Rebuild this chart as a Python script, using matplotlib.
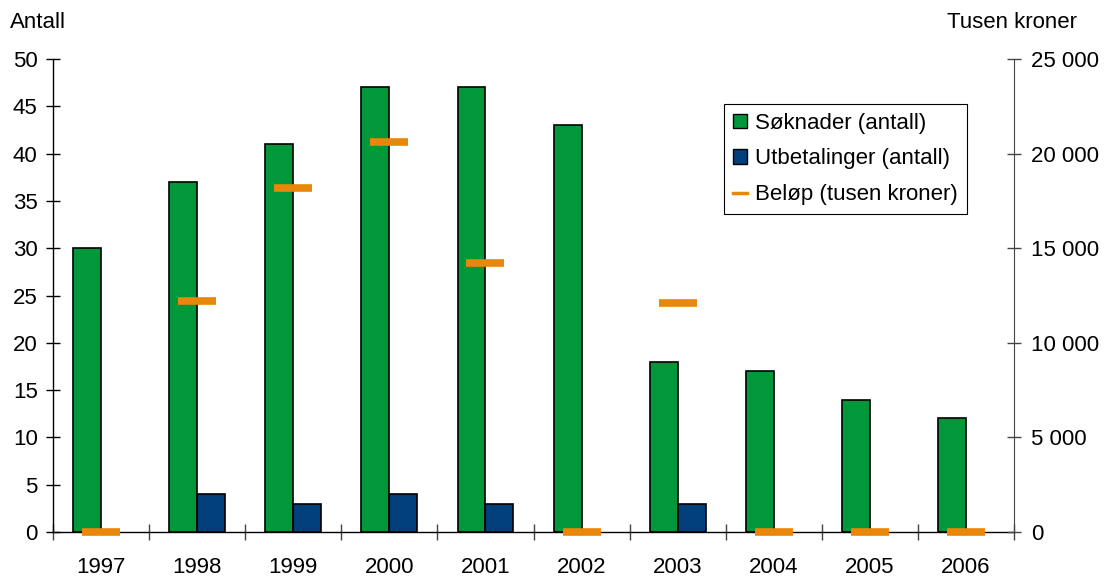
import numpy as np
import matplotlib
matplotlib.use("Agg")
from matplotlib import pyplot as plt
from matplotlib.ticker import FixedLocator, FuncFormatter
from matplotlib.lines import Line2D
from matplotlib.patches import Patch

plt.rcParams["font.family"] = ["Liberation Sans", "DejaVu Sans"]
plt.rcParams["font.size"] = 16

years = ["1997", "1998", "1999", "2000", "2001", "2002", "2003", "2004", "2005", "2006"]
soknader = [30, 37, 41, 47, 47, 43, 18, 17, 14, 12]
utbetalinger = [0, 4, 3, 4, 3, 0, 3, 0, 0, 0]
belop = [0, 12200, 18200, 20600, 14200, 0, 12100, 0, 0, 0]

green = "#00983A"
blue = "#003F7A"
orange = "#E8870A"

fig = plt.figure(figsize=(11.11, 5.76), dpi=100)
ax = fig.add_axes([53 / 1111, 1 - 532 / 576, 961 / 1111, 473 / 576])
ax2 = ax.twinx()

x = np.arange(len(years))
w = 0.29
ax.bar(x - w / 2, soknader, w, color=green, edgecolor="black", linewidth=1.2, zorder=2)
# only non-zero payouts get a bar, so no flat outline sits on the axis
ub = np.array(utbetalinger)
nz = ub > 0
ax.bar(x[nz] + w / 2, ub[nz], w, color=blue, edgecolor="black", linewidth=1.2, zorder=2)

# amounts as short horizontal dashes on the right-hand scale
ax2.plot(x, belop, linestyle="none", marker="_", markersize=28, markeredgewidth=5.5,
         color=orange, clip_on=False, zorder=3)

ax.set_xlim(-0.5, len(years) - 0.5)
ax.set_ylim(0, 50)
ax2.set_ylim(0, 25000)

ax.set_yticks(np.arange(0, 51, 5))
ax2.set_yticks(np.arange(0, 25001, 5000))
ax2.yaxis.set_major_formatter(FuncFormatter(lambda v, p: f"{int(v):,}".replace(",", " ")))

ax.set_xticks(x)
ax.set_xticklabels(years)
ax.xaxis.set_minor_locator(FixedLocator(np.arange(-0.5, len(years), 1.0)))
ax.tick_params(axis="x", which="major", length=0, pad=18)
ax.tick_params(axis="x", which="minor", direction="inout", length=11, width=1, color="#444444")
ax.tick_params(axis="y", direction="inout", length=10, width=1, pad=6)
ax2.tick_params(axis="y", direction="inout", length=10, width=1, pad=7, color="#444444")

for a in (ax, ax2):
    a.spines["top"].set_visible(False)
ax2.spines["left"].set_visible(False)
ax2.spines["bottom"].set_visible(False)
ax.spines["right"].set_visible(False)
ax2.spines["right"].set_color("#444444")
ax.spines["left"].set_linewidth(1)
ax.spines["bottom"].set_linewidth(1)

fig.text(10 / 1111, 1 - 22 / 576, "Antall", ha="left", va="center")
fig.text(1077 / 1111, 1 - 22 / 576, "Tusen kroner", ha="right", va="center")

handles = [
    Patch(facecolor=green, edgecolor="black", linewidth=1),
    Patch(facecolor=blue, edgecolor="black", linewidth=1),
    Line2D([], [], color=orange, linewidth=2.5),
]
labels = ["Søknader (antall)", "Utbetalinger (antall)", "Beløp (tusen kroner)"]
leg = ax2.legend(handles, labels, loc="upper left", bbox_to_anchor=(0.698, 0.905),
                 borderaxespad=0, fancybox=False, frameon=True, framealpha=1,
                 handlelength=0.65, handleheight=0.65, handletextpad=0.35,
                 labelspacing=0.66, borderpad=0.4, fontsize=16)
leg.get_frame().set_edgecolor("black")
leg.get_frame().set_linewidth(0.8)

fig.savefig("out.png", dpi=100)
